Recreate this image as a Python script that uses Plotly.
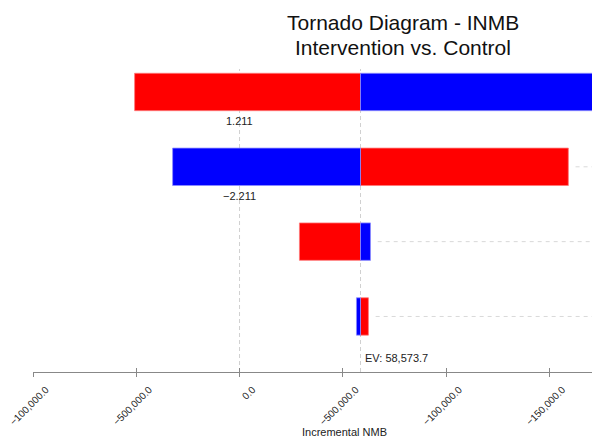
import plotly.graph_objects as go

# ---- data (top row first) ----
row_pos = [3, 2, 1, 0]
red_vals = [-50800, 159200, 29000, 62400]
blue_vals = [195000, -32400, 63400, 56600]
ev = 58573.7
row_labels = ["1.211", "\u22122.211", "", ""]
tick_vals = [-100000, -50000, 0, 50000, 100000, 150000]
tick_text = ["\u2212100,000.0", "\u2212500,000.0", "0.0", "\u2212500,000.0",
             "\u2212100,000.0", "\u2212150,000.0"]
x_range = [-100000, 178400]
y_range = [-0.742, 3.307]
leader_gap = 3500
title_lines = ["Tornado Diagram - INMB", "Intervention vs. Control"]

FONT = "Liberation Sans, Arial, Helvetica, sans-serif"

fig = go.Figure()

fig.add_trace(go.Bar(
    y=row_pos, x=[v - ev for v in red_vals], base=ev, orientation="h",
    width=0.5, marker=dict(color="#ff0000", line=dict(color="rgba(255,120,120,0.8)", width=1)),
    showlegend=False, hoverinfo="skip"))
fig.add_trace(go.Bar(
    y=row_pos, x=[v - ev for v in blue_vals], base=ev, orientation="h",
    width=0.5, marker=dict(color="#0000ff", line=dict(color="rgba(140,140,255,0.8)", width=1)),
    showlegend=False, hoverinfo="skip"))

# leader lines to the right of each bar
for yp, r, b in zip(row_pos, red_vals, blue_vals):
    fig.add_trace(go.Scatter(
        x=[max(r, b) + leader_gap, x_range[1]], y=[yp, yp], mode="lines",
        line=dict(color="#d9d9d9", width=1, dash="4px,4px"),
        showlegend=False, hoverinfo="skip"))

# dummy trace for the secondary axis (inside tick marks)
fig.add_trace(go.Scatter(x=[None], y=[None], xaxis="x2", yaxis="y",
                         showlegend=False, hoverinfo="skip"))

# vertical reference lines at 0 and EV
for xv in [0, ev]:
    fig.add_shape(type="line", x0=xv, x1=xv, y0=0, y1=1, xref="x", yref="y domain",
                  line=dict(color="#d0d0d0", width=1, dash="4px,3px"), layer="below")

# row value labels
for yp, lab in zip(row_pos, row_labels):
    if lab:
        fig.add_annotation(x=0, y=yp - 0.39, text=lab, showarrow=False,
                           font=dict(size=11, color="#222222", family=FONT))

fig.add_annotation(x=ev, y=-0.56, text="EV: 58,573.7", showarrow=False,
                   xanchor="left", xshift=2,
                   font=dict(size=11, color="#222222", family=FONT))

fig.add_annotation(x=0.5426, y=0, xref="paper", yref="paper", yshift=-68,
                   text="Incremental NMB", showarrow=False,
                   font=dict(size=11, color="#222222", family=FONT))

# title as two lines
for ty, line in zip([1.1535, 1.0726], title_lines):
    fig.add_annotation(x=(395 - 25) / 575, y=ty, xref="paper", yref="paper",
                       xanchor="center", yanchor="middle", text=line, showarrow=False,
                       font=dict(size=21, color="#111111", family=FONT))

fig.update_layout(
    width=600, height=437,
    margin=dict(l=25, r=0, t=61, b=73, autoexpand=False),
    plot_bgcolor="white", paper_bgcolor="white",
    barmode="overlay",
    font=dict(family=FONT, color="#222222"),
    xaxis=dict(range=x_range, tickvals=tick_vals, ticktext=tick_text,
               tickangle=-45, ticks="outside", ticklen=4, tickcolor="#888888",
               showline=True, linecolor="#888888", linewidth=1,
               showgrid=False, zeroline=False, ticklabeloverflow="allow",
               automargin=False, ticklabelshift=13, ticklabelstandoff=3,
               tickfont=dict(size=10, color="#222222", family=FONT)),
    xaxis2=dict(range=x_range, tickvals=tick_vals, overlaying="x", side="bottom",
                ticks="inside", ticklen=4, tickcolor="#888888", automargin=False,
                showticklabels=False, showgrid=False, zeroline=False, showline=False),
    yaxis=dict(range=y_range, visible=False, showgrid=False, zeroline=False,
               automargin=False),
)

fig.write_html("out.html")
